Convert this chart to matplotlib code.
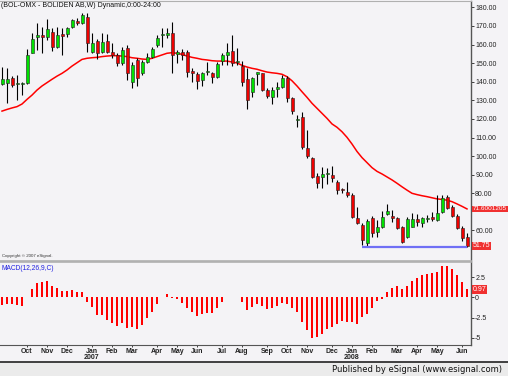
import numpy as np
import matplotlib
matplotlib.use("Agg")
import matplotlib.pyplot as plt
from matplotlib.patches import Rectangle
from matplotlib.lines import Line2D

# weekly candles, BOL-OMX, week of 2006-08-28 .. week of 2008-06-09
opens = [138.8, 139.1, 141.8, 138.6, 138.8, 139.1, 155.6, 164.2, 165.1, 163.9,
         166.5, 158.8, 165.6, 165.6, 169.6, 172.8, 171.4, 174.6, 156.1, 162.1,
         156.1, 162.1, 156.1, 154.4, 149.9, 157.9, 140.0, 151.7, 144.5, 150.8,
         153.5, 159.7, 164.9, 165.1, 166.0, 154.9, 156.1, 156.1, 145.9, 144.1,
         140.9, 145.4, 144.5, 142.3, 151.3, 154.4, 156.7, 150.8, 148.4, 141.3,
         134.3, 144.1, 144.5, 135.5, 131.9, 135.9, 137.3, 141.8, 131.1, 119.6,
         120.9, 104.2, 98.8, 89.3, 88.6, 90.2, 89.8, 86.2, 81.9, 80.9,
         79.1, 66.6, 62.9, 53.1, 66.6, 59.4, 62.0, 69.1, 68.0, 66.6,
         61.7, 56.7, 62.0, 66.0, 64.2, 66.0, 67.1, 65.6, 70.1, 78.2,
         72.8, 68.0, 61.1, 56.7]
highs = [148.1, 147.2, 143.0, 143.6, 140.0, 157.4, 166.0, 171.4, 169.6, 173.5,
         168.7, 169.6, 168.7, 169.6, 173.5, 174.1, 177.1, 176.8, 166.0, 162.8,
         166.0, 165.6, 161.0, 155.3, 158.5, 159.7, 150.8, 152.6, 151.7, 155.3,
         158.8, 165.1, 168.7, 168.7, 171.9, 157.0, 157.4, 157.0, 147.2, 145.4,
         145.4, 150.8, 145.4, 150.8, 155.6, 160.6, 165.1, 157.9, 151.3, 147.2,
         142.7, 145.4, 144.8, 136.8, 137.3, 140.0, 143.6, 143.1, 131.9, 122.1,
         123.9, 114.0, 99.7, 90.8, 94.0, 93.4, 94.7, 87.2, 82.7, 86.2,
         80.0, 72.4, 63.8, 66.0, 67.8, 65.6, 70.7, 74.0, 70.9, 67.2,
         62.4, 67.1, 69.3, 68.9, 67.4, 68.3, 70.1, 79.1, 79.1, 79.1,
         73.7, 68.7, 62.4, 58.8]
lows = [138.2, 128.7, 137.0, 130.2, 132.9, 138.8, 155.3, 157.0, 155.3, 162.4,
        156.7, 157.9, 154.4, 163.8, 168.7, 170.5, 171.0, 156.1, 155.3, 152.0,
        155.6, 155.3, 152.6, 148.4, 149.0, 140.9, 136.4, 137.7, 143.6, 149.9,
        152.6, 158.8, 158.8, 163.3, 144.5, 149.9, 151.7, 142.7, 140.0, 135.9,
        137.7, 143.6, 139.5, 141.8, 149.0, 149.0, 148.4, 149.0, 137.7, 125.2,
        131.9, 138.2, 135.0, 131.1, 127.8, 131.9, 136.4, 129.2, 122.6, 115.8,
        103.7, 98.8, 88.1, 82.7, 82.7, 85.0, 86.2, 79.6, 80.0, 78.2,
        66.6, 63.5, 52.2, 51.8, 56.7, 56.7, 61.1, 68.3, 64.7, 60.6,
        53.5, 55.8, 61.7, 62.4, 61.7, 64.7, 65.2, 65.2, 69.5, 71.4,
        67.1, 60.8, 54.5, 51.0]
closes = [141.3, 141.3, 138.2, 138.9, 139.3, 154.4, 162.8, 165.1, 164.2, 168.1,
          158.8, 165.1, 164.6, 168.7, 173.2, 171.4, 175.9, 160.6, 161.0, 155.3,
          161.5, 156.1, 154.4, 149.9, 157.0, 144.5, 149.0, 141.8, 150.8, 153.5,
          157.4, 163.3, 165.3, 166.0, 154.4, 156.1, 154.4, 145.4, 144.8, 140.5,
          144.8, 145.9, 142.7, 149.5, 154.4, 156.1, 150.2, 151.2, 140.0, 130.2,
          142.2, 145.1, 135.5, 132.3, 135.5, 137.3, 141.8, 131.1, 124.4, 120.0,
          105.1, 100.1, 88.9, 85.7, 90.4, 90.5, 88.1, 81.8, 81.7, 79.1,
          67.1, 64.2, 54.9, 65.2, 58.5, 62.0, 67.1, 70.4, 66.9, 61.1,
          53.9, 66.0, 66.0, 64.7, 66.6, 66.1, 66.0, 69.3, 77.3, 72.0,
          67.8, 61.6, 55.8, 51.75]

# moving average as drawn on the chart
ma = [124.2, 125.1, 125.9, 126.6, 128.0, 130.5, 132.8, 135.5, 137.7, 139.5,
      141.3, 143.0, 144.5, 146.3, 148.4, 150.2, 152.0, 152.6, 152.9, 153.1,
      153.5, 153.8, 154.0, 154.0, 153.8, 153.5, 152.9, 152.6, 152.2, 152.0,
      152.6, 153.5, 154.4, 155.3, 155.6, 155.3, 154.7, 153.8, 153.1, 152.6,
      152.0, 151.7, 151.3, 151.1, 151.1, 151.1, 150.6, 150.1, 148.8, 147.9,
      147.2, 146.7, 145.9, 145.2, 144.8, 144.5, 144.0, 142.7, 140.5, 137.7,
      134.6, 131.6, 128.4, 125.7, 123.0, 120.3, 117.3, 115.5, 113.1, 110.1,
      106.5, 102.5, 99.2, 96.5, 93.8, 91.8, 90.4, 88.8, 87.2, 85.4,
      83.5, 81.7, 80.0, 79.3, 78.7, 78.2, 77.6, 77.0, 76.7, 76.3,
      75.5, 74.3, 73.0, 71.6]

# MACD(12,26,9) histogram
macd = [-0.94, -0.82, -0.86, -0.94, -1.03, 0.10, 0.99, 1.72, 1.85, 2.01,
        1.40, 1.11, 0.82, 0.82, 0.90, 0.66, 0.62, -0.53, -1.23, -2.18,
        -2.18, -2.79, -3.12, -3.49, -3.20, -3.74, -3.61, -3.86, -3.41, -2.59,
        -1.85, -0.86, 0.05, 0.37, -0.12, -0.25, -0.66, -1.35, -1.85, -2.26,
        -2.05, -1.97, -1.89, -1.31, -0.53, 0.08, 0.08, 0.06, -0.53, -1.56,
        -1.15, -0.86, -1.03, -1.48, -1.27, -1.03, -0.66, -0.82, -1.27, -1.85,
        -3.08, -4.02, -5.05, -4.93, -4.52, -3.94, -3.61, -3.28, -2.87, -3.00,
        -3.04, -3.28, -2.38, -2.05, -1.35, -0.41, -0.20, 0.66, 1.19, 1.40,
        0.99, 1.44, 2.05, 2.34, 2.75, 2.87, 2.96, 3.16, 3.86, 3.86,
        3.45, 2.75, 1.85, 0.97]

month_pos = [5, 9, 13, 18, 22, 26, 31, 35, 39, 44, 48, 53, 57, 61, 66, 70, 74, 79, 83, 87, 92]
month_lbl = ['Oct', 'Nov', 'Dec', 'Jan', 'Feb', 'Mar', 'Apr', 'May', 'Jun', 'Jul', 'Aug',
             'Sep', 'Oct', 'Nov', 'Dec', 'Jan', 'Feb', 'Mar', 'Apr', 'May', 'Jun']
year_pos = [18, 70]
year_lbl = ['2007', '2008']
# 70.00 sits under the red MA value box, so it is left out
price_ticks = [60, 80, 90, 100, 110, 120, 130, 140, 150, 160, 170, 180]
macd_ticks = [-5, -2.5, 0, 2.5]
ma_label = '71.6001205'
last_label = '51.75'
macd_label = '0.97'

FONT = ['Liberation Sans', 'DejaVu Sans']
bg = '#f4f3f6'
W, H = 508, 376


def box(x0, y0, x1, y1):
    # pixel box -> figure fraction
    return [x0 / W, 1 - y1 / H, (x1 - x0) / W, (y1 - y0) / H]


fig = plt.figure(figsize=(W / 100, H / 100), dpi=100)
fig.patch.set_facecolor(bg)

ax = fig.add_axes(box(0, 1, 471, 261))
ax2 = fig.add_axes(box(0, 262, 471, 345), sharex=ax)
for a in (ax, ax2):
    a.set_facecolor(bg)
    a.spines['left'].set_visible(False)
    a.spines['right'].set_color('#555555')
    a.spines['right'].set_linewidth(1.0)
    a.yaxis.tick_right()
    a.tick_params(axis='y', length=2, width=0.6, pad=1, labelsize=5, colors='#222222')

x = np.arange(len(closes))
o = np.array(opens)
c = np.array(closes)
up = c >= o
cols = np.where(up, '#00e000', '#ee0000')
bot = np.minimum(o, c)
hgt = np.maximum(np.abs(c - o), 0.5)

ax.plot(x, ma, color='#ff0000', lw=1.1, zorder=1)
ax.vlines(x, lows, highs, color='black', lw=0.8, zorder=2)
ax.bar(x, hgt, bottom=bot, width=0.6, color=cols, edgecolor='#222222', linewidth=0.4, zorder=3)
lo = min(lows[72:])
ax.hlines(lo, 72, x[-1], color='#6f6ff5', lw=1.6, zorder=4)

ax.set_xlim(-0.4, 93.8)
ax.set_ylim(43.6, 183.4)
ax.set_yticks(price_ticks)
ax.set_yticklabels(['%.2f' % v for v in price_ticks], family=FONT)
ax.spines['top'].set_color('#b0b0b0')
ax.spines['bottom'].set_color('#b0b0b0')
ax.spines['bottom'].set_linewidth(1.2)
ax.tick_params(axis='x', bottom=False, labelbottom=False)

tr = ax.get_yaxis_transform()
ax.text(1.004, ma[-1], ma_label, transform=tr, ha='left', va='center', fontsize=4.6,
        family=FONT, color='white', clip_on=False, zorder=6,
        bbox=dict(boxstyle='square,pad=0.12', fc='#f03030', ec='none'))
ax.text(1.004, closes[-1], last_label, transform=tr, ha='left', va='center', fontsize=5,
        family=FONT, color='white', clip_on=False, zorder=6,
        bbox=dict(boxstyle='square,pad=0.12', fc='#f03030', ec='none'))

ax2.bar(x, macd, width=0.4, color='#ff0000', linewidth=0)
ax2.set_ylim(-5.87, 4.35)
ax2.set_yticks(macd_ticks)
ax2.set_yticklabels(['-5', '-2.5', '0', '2.5'], family=FONT)
ax2.spines['top'].set_color('#b0b0b0')
ax2.spines['top'].set_linewidth(1.2)
ax2.spines['bottom'].set_color('#555555')
ax2.set_xticks(month_pos)
ax2.set_xticklabels(month_lbl, family=FONT, fontweight='bold')
ax2.tick_params(axis='x', length=1.5, width=0.6, pad=0.8, labelsize=5, colors='#222222')
tr2 = ax2.get_yaxis_transform()
ax2.text(1.004, macd[-1], macd_label, transform=tr2, ha='left', va='center', fontsize=5,
         family=FONT, color='white', clip_on=False, zorder=6,
         bbox=dict(boxstyle='square,pad=0.12', fc='#f03030', ec='none'))
for p, s in zip(year_pos, year_lbl):
    ax2.text(p, -0.15, s, transform=ax2.get_xaxis_transform(), ha='center', va='center',
             fontsize=5, family=FONT, fontweight='bold', color='#222222')

fig.text(1 / W, 1 - 5.5 / H, '(BOL-OMX - BOLIDEN AB,W) Dynamic,0:00-24:00', ha='left', va='center',
         fontsize=5, family=FONT, color='#111111')
fig.text(2 / W, 1 - 256 / H, 'Copyright \u00a9 2007 eSignal.', ha='left', va='center',
         fontsize=3.2, family=FONT, color='#333333')
fig.text(1 / W, 1 - 269 / H, 'MACD(12,26,9,C)', ha='left', va='center',
         fontsize=4.8, family=FONT, color='#2020e0')

fig.add_artist(Rectangle((0, 0), 1, (H - 362) / H, transform=fig.transFigure,
                         fc='#ebebeb', ec='none', zorder=0))
fig.add_artist(Line2D([0, 1], [(H - 362) / H] * 2, transform=fig.transFigure, color='#222222', lw=1.2))
fig.text(502 / W, (H - 369) / H, 'Published by eSignal (www.esignal.com)', ha='right', va='center',
         fontsize=6, family='DejaVu Sans', color='#111111')

fig.savefig('out.png', dpi=100, facecolor=fig.get_facecolor())
